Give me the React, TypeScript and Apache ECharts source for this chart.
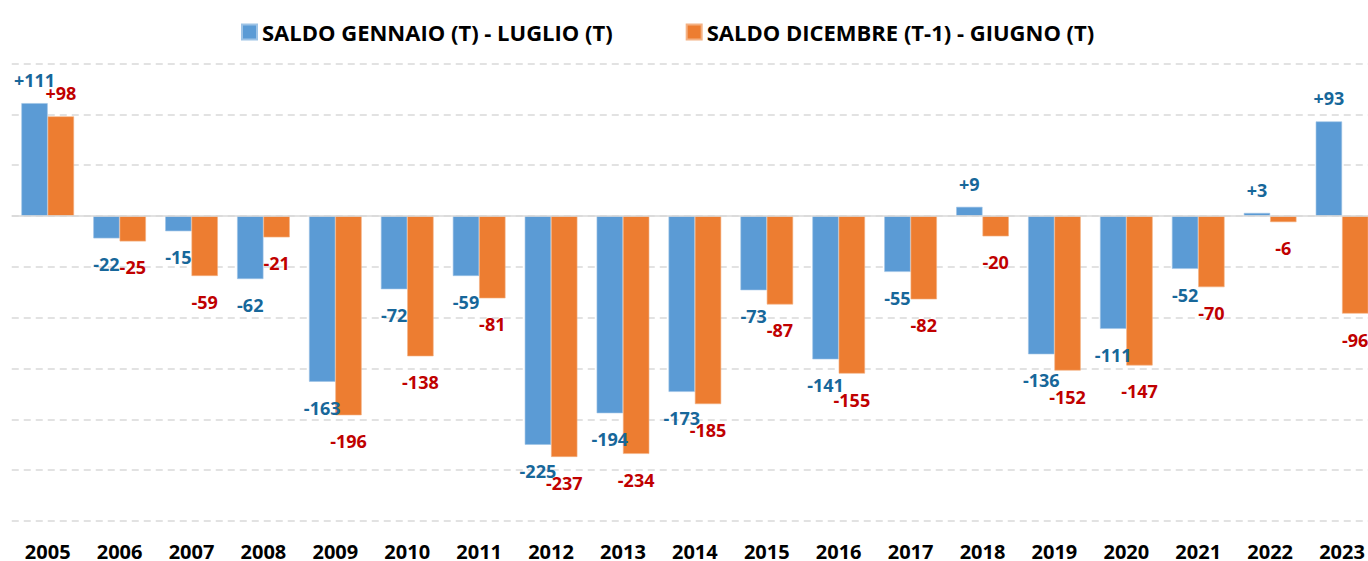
import React, { useEffect, useRef } from "react";
import * as echarts from "echarts";

const years = ["2005","2006","2007","2008","2009","2010","2011","2012","2013","2014","2015","2016","2017","2018","2019","2020","2021","2022","2023"];
const saldoGenLug = [111, -22, -15, -62, -163, -72, -59, -225, -194, -173, -73, -141, -55, 9, -136, -111, -52, 3, 93];
const saldoDicGiu = [98, -25, -59, -21, -196, -138, -81, -237, -234, -185, -87, -155, -82, -20, -152, -147, -70, -6, -96];
const seriesNames = ["SALDO GENNAIO (T) - LUGLIO (T)", "SALDO DICEMBRE (T-1) - GIUGNO (T)"];

const FONT = "'Open Sans', 'Noto Sans', sans-serif";

function makeData(vals: number[]) {
  return vals.map((v) => ({
    value: v,
    label: { position: v >= 0 ? "top" : "bottom", distance: v >= 0 ? 14 : 17 },
  }));
}

export default function App() {
  const ref = useRef<HTMLDivElement>(null);
  useEffect(() => {
    if (!ref.current) return;
    const chart = echarts.init(ref.current, null, { renderer: "svg" });
    const labelCommon = (color: string) => ({
      show: true,
      fontFamily: FONT,
      fontWeight: "bold",
      fontSize: 18,
      lineHeight: 18,
      color,
      formatter: (p: any) => (p.value > 0 ? "+" + p.value : String(p.value)),
    });
    chart.setOption({
      animation: false,
      backgroundColor: "#ffffff",
      textStyle: { fontFamily: FONT },
      legend: {
        top: 16,
        left: 236,
        icon: "rect",
        itemWidth: 15,
        itemHeight: 15,
        itemGap: 73,
        textStyle: { fontFamily: FONT, fontWeight: "bold", fontSize: 22, lineHeight: 22, color: "#000000" },
        data: seriesNames,
      },
      grid: { left: 11.75, right: 0, top: 63.5, bottom: 561 - 521.5, containLabel: false },
      xAxis: {
        type: "category",
        data: years,
        position: "bottom",
        axisLine: { show: false },
        axisTick: { show: false },
        axisLabel: { margin: 23, fontFamily: FONT, fontWeight: "bold", fontSize: 20, lineHeight: 14, color: "#000000" },
      },
      yAxis: {
        type: "value",
        min: -300,
        max: 150,
        interval: 50,
        axisLabel: { show: false },
        axisLine: { show: false },
        axisTick: { show: false },
        splitLine: { show: true, lineStyle: { color: "#D9D9D9", type: [7, 5], width: 1.5 } },
      },
      series: [
        {
          name: seriesNames[0],
          type: "bar",
          data: makeData(saldoGenLug),
          barGap: "0%",
          barCategoryGap: "26.8%",
          itemStyle: { color: "#5B9BD5", borderColor: "#9DC3E6", borderWidth: 0.6 },
          label: labelCommon("#17679A"),
          markLine: {
            silent: true,
            symbol: "none",
            label: { show: false },
            lineStyle: { color: "#D9D9D9", type: "solid", width: 1.5 },
            data: [{ yAxis: 0 }],
          },
          z: 3,
        },
        {
          name: seriesNames[1],
          type: "bar",
          data: makeData(saldoDicGiu),
          barGap: "0%",
          barCategoryGap: "26.8%",
          itemStyle: { color: "#ED7D31", borderColor: "#F4B183", borderWidth: 0.6 },
          label: labelCommon("#C00000"),
          z: 3,
        },
      ],
    });
    return () => chart.dispose();
  }, []);
  return (
    <div style={{ position: "absolute", left: 0, top: 0, width: 1368, height: 561, overflow: "hidden", background: "#fff" }}>
      <div ref={ref} style={{ width: 1378, height: 561 }} />
    </div>
  );
}
